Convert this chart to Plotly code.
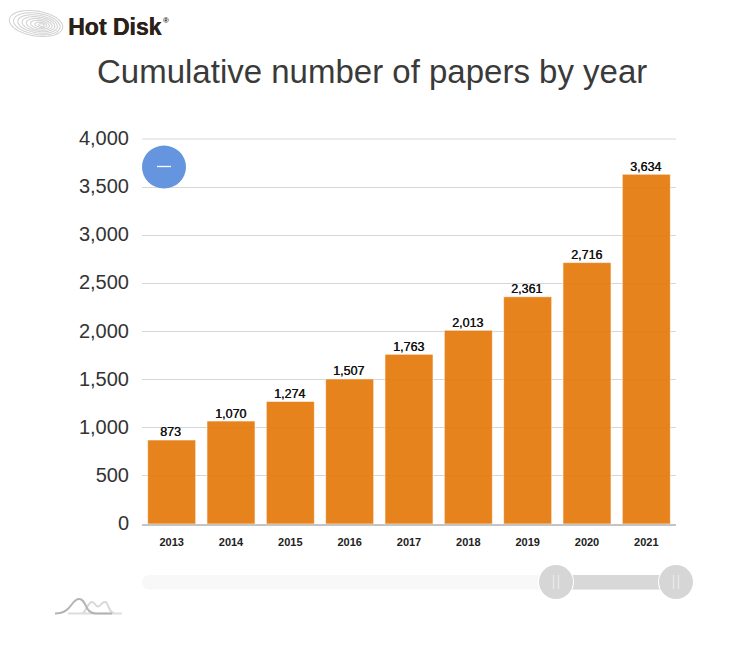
import math
import plotly.graph_objects as go

years = ["2013", "2014", "2015", "2016", "2017", "2018", "2019", "2020", "2021"]
papers = [873, 1070, 1274, 1507, 1763, 2013, 2361, 2716, 3634]
y_ticks = [0, 500, 1000, 1500, 2000, 2500, 3000, 3500, 4000]

W, H = 739, 669
L, R, T, B = 142, 676, 139, 524
FONT = "Liberation Sans, Arial, sans-serif"

def px(x):
    return (x - L) / (R - L)

def py(y):
    return (B - y) / (B - T)

def oval(cx, cy, rx, ry, **kw):
    return dict(type="circle", xref="paper", yref="paper",
                x0=px(cx - rx), x1=px(cx + rx), y0=py(cy + ry), y1=py(cy - ry), **kw)

def rect(x0, y0, x1, y1, **kw):
    return dict(type="rect", xref="paper", yref="paper",
                x0=px(x0), x1=px(x1), y0=py(y1), y1=py(y0), **kw)

def seg(x0, y0, x1, y1, color, width):
    return dict(type="line", xref="paper", yref="paper",
                x0=px(x0), x1=px(x1), y0=py(y0), y1=py(y1),
                line=dict(color=color, width=width))

def curve(points, color, width):
    parts = []
    for i, (a, b) in enumerate(points):
        prefix = "M " if i == 0 else ("C " if i % 3 == 1 else "")
        parts.append(f"{prefix}{px(a):.5f},{py(b):.5f}")
    return dict(type="path", xref="paper", yref="paper", path=" ".join(parts),
                line=dict(color=color, width=width))

def tilted_ring(cx, cy, rx, ry, deg, color, width):
    a = math.radians(deg)
    pts = []
    for k in range(48):
        t = 2 * math.pi * k / 48
        ex, ey = rx * math.cos(t), ry * math.sin(t)
        pts.append((cx + ex * math.cos(a) - ey * math.sin(a), cy + ex * math.sin(a) + ey * math.cos(a)))
    d = "M " + " L ".join(f"{px(p):.5f},{py(q):.5f}" for p, q in pts) + " Z"
    return dict(type="path", xref="paper", yref="paper", path=d, line=dict(color=color, width=width))

shapes = []

# top gridline (plotly drops the one on the axis edge)
shapes.append(seg(L, T, R, T, "#d6d6d6", 1))

# logo disk rings
for rx, ry, cx, cy in [(27, 12.5, 36, 23.5), (23.5, 10.6, 36.8, 23.8), (20, 8.8, 37.6, 24),
                       (16.5, 7.2, 38.4, 24.2), (13, 5.6, 39.2, 24.4), (9.5, 4.0, 40, 24.6),
                       (6, 2.5, 40.8, 24.8), (3, 1.2, 41.5, 25)]:
    shapes.append(tilted_ring(cx, cy, rx, ry, 9, "#d4d4d4", 1.1))

# toggle button
shapes.append(oval(164, 167, 22, 21.5, fillcolor="#6495de", line=dict(width=0)))
shapes.append(seg(157, 166.5, 171, 166.5, "#ffffff", 1.3))

# range slider
shapes.append(rect(149, 575, 680, 589.5, fillcolor="#f8f8f8", line=dict(width=0), layer="below"))
shapes.append(oval(149, 582.25, 7.25, 7.25, fillcolor="#f8f8f8", line=dict(width=0), layer="below"))
shapes.append(rect(556, 575, 676, 589.5, fillcolor="#d8d8d8", line=dict(width=0)))
for cx in (556, 676):
    shapes.append(oval(cx, 582, 18, 18, fillcolor="#ffffff", line=dict(width=0)))
    shapes.append(oval(cx, 582, 17, 17, fillcolor="#d6d6d6", line=dict(width=0)))
    shapes.append(seg(cx - 2.5, 575, cx - 2.5, 589, "#e8e8e8", 1.3))
    shapes.append(seg(cx + 2.5, 575, cx + 2.5, 589, "#e8e8e8", 1.3))

# small chart icon
shapes.append(seg(68, 613.5, 122, 613.5, "#dddddd", 2))
shapes.append(curve([(83, 613), (87, 610), (88, 602), (92, 602),
                     (95, 602), (95, 606.5), (98, 606.5),
                     (101, 606.5), (101, 602), (105, 602),
                     (109, 602), (108, 613), (114, 613)], "#d8d8d8", 2))
shapes.append(curve([(55, 613.5), (72, 613.5), (71, 599), (79, 599),
                     (87, 599), (84, 613.5), (96, 613.5)], "#b4b4b4", 2))
shapes.append(seg(96, 613.5, 112, 613.5, "#b4b4b4", 2))

fig = go.Figure(go.Bar(
    x=years, y=papers,
    marker=dict(color="#e57a0c", opacity=0.93, line=dict(color="rgba(255,255,255,0.6)", width=1)),
    hoverinfo="x+y",
))

annotations = [
    dict(text="Cumulative number of papers by year", xref="paper", yref="paper",
         x=px(371.5), y=py(71.6), xanchor="center", yanchor="middle", showarrow=False,
         font=dict(family=FONT, size=33, color="#3a3a3a")),
    dict(text="<b>Hot Disk</b>", xref="paper", yref="paper",
         x=px(66), y=py(27), xanchor="left", yanchor="middle", showarrow=False,
         font=dict(family=FONT, size=23, color="#2b2118", shadow="0.5px 0 0 #2b2118")),
    dict(text="<b>®</b>", xref="paper", yref="paper",
         x=px(161), y=py(21), xanchor="left", yanchor="middle", showarrow=False,
         font=dict(family=FONT, size=8, color="#2b2118")),
]
for i, v in enumerate(papers):
    annotations.append(dict(text=f"{v:,}", x=i, y=v, xref="x", yref="y", xanchor="center",
                            yanchor="bottom", yshift=-1.5, xshift=-0.7, showarrow=False,
                            font=dict(family=FONT, size=12.5, color="#111111", shadow="0.4px 0 0 #111111")))

fig.update_layout(
    width=W, height=H,
    margin=dict(l=L, r=W - R, t=T, b=H - B, pad=0),
    paper_bgcolor="#ffffff", plot_bgcolor="#ffffff",
    bargap=0.19,
    showlegend=False,
    shapes=shapes,
    annotations=annotations,
    xaxis=dict(type="category", range=[-0.5, 8.5], showgrid=False, zeroline=False, layer="below traces",
               showline=True, linecolor="#c4c4c4", linewidth=1.5, ticks="", ticklabelstandoff=7,
               tickfont=dict(family=FONT, size=11, color="#222222", weight="bold")),
    yaxis=dict(range=[0, 4000], tickvals=y_ticks, tickformat=",d", showgrid=True,
               gridcolor="#d6d6d6", gridwidth=1, zeroline=False, showline=False, ticks="",
               ticklabelstandoff=12, ticklabelshift=-1,
               tickfont=dict(family=FONT, size=20, color="#333333")),
    font=dict(family=FONT),
)

fig.write_html("out.html", config=dict(displayModeBar=False),
               post_script="document.body.style.margin='0';document.documentElement.style.overflow='hidden';")
